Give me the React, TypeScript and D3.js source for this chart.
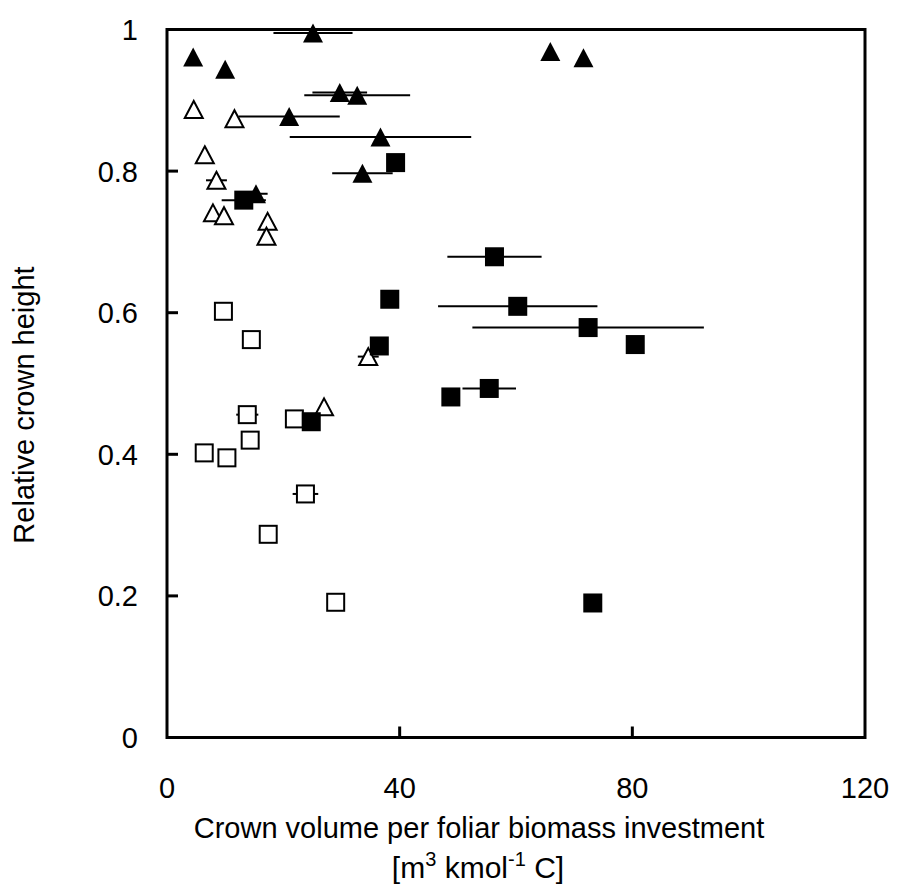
import React from "react";
import * as d3 from "d3";

// Filled triangles
const filledTriX = [4.5, 10.0, 25.1, 29.7, 32.7, 21.0, 36.7, 33.6, 15.3, 65.9, 71.6];
const filledTriY = [0.961, 0.944, 0.995, 0.911, 0.907, 0.877, 0.848, 0.797, 0.768, 0.969, 0.960];
const filledTriErr = [0, 0, 6.8, 4.7, 9.1, 8.7, 15.6, 5.2, 2.0, 0, 0];

// Open triangles
const openTriX = [4.6, 11.6, 6.5, 8.5, 7.9, 9.8, 17.3, 17.1, 34.6, 27.0];
const openTriY = [0.887, 0.874, 0.823, 0.787, 0.741, 0.737, 0.729, 0.708, 0.538, 0.467];
const openTriErr = [0, 0, 0, 1.8, 0, 0, 0, 0, 1.8, 0];

// Filled squares
const filledSqX = [39.3, 13.2, 56.3, 60.3, 72.4, 80.5, 55.4, 48.8, 38.3, 36.5, 24.8, 73.2];
const filledSqY = [0.812, 0.759, 0.679, 0.609, 0.579, 0.555, 0.493, 0.481, 0.619, 0.553, 0.446, 0.190];
const filledSqErr = [0, 3.8, 8.1, 13.7, 19.9, 0, 4.6, 0, 0, 0, 0, 0];

// Open squares
const openSqX = [9.7, 14.5, 13.8, 21.9, 14.3, 6.4, 10.3, 23.8, 17.4, 29.0];
const openSqY = [0.602, 0.562, 0.456, 0.450, 0.420, 0.402, 0.395, 0.344, 0.287, 0.191];
const openSqErr = [0, 0, 1.9, 0, 0, 0, 0, 2.2, 0, 0];

const xTicks = [0, 40, 80, 120];
const yTicks = [0, 0.2, 0.4, 0.6, 0.8, 1];

const W = 898;
const H = 885;
const L = 167, R = 865, T = 29.5, B = 737.5;
const FONT = "'Liberation Sans', Arial, sans-serif";

export default function App() {
  const x = d3.scaleLinear().domain([0, 120]).range([L, R]);
  const y = d3.scaleLinear().domain([0, 1]).range([B, T]);

  type P = { x: number; y: number; e: number };
  const mk = (xs: number[], ys: number[], es: number[]): P[] => xs.map((v, i) => ({ x: v, y: ys[i], e: es[i] }));
  const fT = mk(filledTriX, filledTriY, filledTriErr);
  const oT = mk(openTriX, openTriY, openTriErr);
  const fS = mk(filledSqX, filledSqY, filledSqErr);
  const oS = mk(openSqX, openSqY, openSqErr);
  const all = [...fT, ...oT, ...fS, ...oS];

  const tri = (cx: number, cy: number, hw: number, hh: number) =>
    `M${cx},${cy - hh}L${cx + hw},${cy + hh}L${cx - hw},${cy + hh}Z`;

  return (
    <svg width={W} height={H} style={{ position: "absolute", left: 0, top: 0, background: "#fff" }} fontFamily={FONT}>
      <rect x={0} y={0} width={W} height={H} fill="#fff" />
      {/* error bars */}
      {all.filter((d) => d.e > 0).map((d, i) => (
        <line key={"e" + i} x1={x(d.x - d.e)} x2={x(d.x + d.e)} y1={y(d.y)} y2={y(d.y)} stroke="#000" strokeWidth={2} />
      ))}
      {/* open squares */}
      {oS.map((d, i) => (
        <rect key={"os" + i} x={x(d.x) - 8.5} y={y(d.y) - 8.5} width={17} height={17} fill="#fff" stroke="#000" strokeWidth={2} />
      ))}
      {/* open triangles */}
      {oT.map((d, i) => (
        <path key={"ot" + i} d={tri(x(d.x), y(d.y), 9, 8.5)} fill="#fff" stroke="#000" strokeWidth={2} strokeLinejoin="miter" />
      ))}
      {/* filled squares */}
      {fS.map((d, i) => (
        <rect key={"fs" + i} x={x(d.x) - 9.5} y={y(d.y) - 9.5} width={19} height={19} fill="#000" />
      ))}
      {/* filled triangles */}
      {fT.map((d, i) => (
        <path key={"ft" + i} d={tri(x(d.x), y(d.y), 10, 9.5)} fill="#000" />
      ))}
      {/* frame */}
      <rect x={L} y={T} width={R - L} height={B - T} fill="none" stroke="#000" strokeWidth={3} />
      {/* ticks inward */}
      {yTicks.filter((t) => t > 0 && t < 1).map((t) => (
        <line key={"yt" + t} x1={L} x2={L + 11} y1={y(t)} y2={y(t)} stroke="#000" strokeWidth={3} />
      ))}
      {xTicks.filter((t) => t > 0 && t < 120).map((t) => (
        <line key={"xt" + t} x1={x(t)} x2={x(t)} y1={B} y2={B - 11} stroke="#000" strokeWidth={3} />
      ))}
      {/* tick labels */}
      {yTicks.map((t) => (
        <text key={"yl" + t} x={138} y={y(t) + 10.5} textAnchor="end" fontSize={29} fill="#000">
          {d3.format("~g")(t)}
        </text>
      ))}
      {xTicks.map((t) => (
        <text key={"xl" + t} x={x(t)} y={798} textAnchor="middle" fontSize={29} fill="#000">
          {t}
        </text>
      ))}
      {/* axis titles */}
      <text x={479} y={838} textAnchor="middle" fontSize={29} fill="#000">
        Crown volume per foliar biomass investment
      </text>
      <text x={478} y={878} textAnchor="middle" fontSize={30} fill="#000">
        [m<tspan fontSize={20} dy={-12}>3</tspan>
        <tspan dy={12}> kmol</tspan>
        <tspan fontSize={20} dy={-12}>-1</tspan>
        <tspan dy={12}> C]</tspan>
      </text>
      <text transform={`translate(34,405) rotate(-90)`} textAnchor="middle" fontSize={29} fill="#000">
        Relative crown height
      </text>
    </svg>
  );
}
